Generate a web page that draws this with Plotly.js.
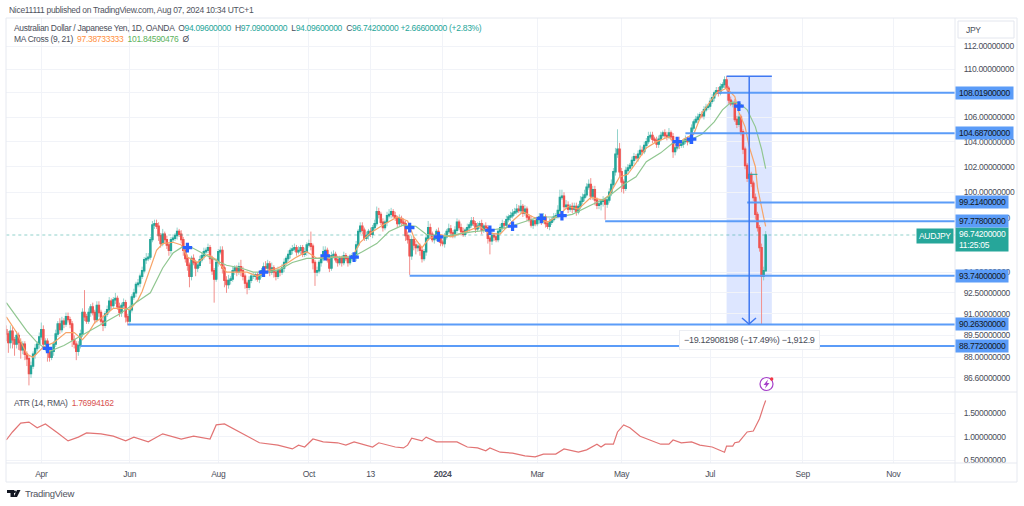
<!DOCTYPE html>
<html>
<head>
<meta charset="utf-8">
<title>AUDJPY 1D</title>
<script src="https://cdn.plot.ly/plotly-3.0.1.min.js"></script>
<style>
	html, body { margin: 0; padding: 0; background: #fff; }
	#chart { width: 1024px; height: 506px; }
	text { letter-spacing: -0.3px; }
</style>
</head>
<body>
<div id="chart"></div>
<script>
	'use strict';

	// daily closes, one line = 10 bars, first bar is 2023-03-09
	const firstOpen = 89.9;
	const closes = [
		89.6,89.0,89.8,89.2,88.9,89.5,89.0,88.5,88.9,88.2,
		87.9,86.9,87.4,88.2,88.6,88.9,89.4,89.9,88.9,89.1,
		88.4,88.0,88.4,88.9,89.6,90.3,89.9,90.5,90.3,90.8,
		90.6,90.3,89.2,88.9,88.4,88.8,89.6,91.1,90.8,90.5,
		91.1,91.5,91.1,90.6,91.6,91.1,90.5,90.2,91.0,91.3,
		91.9,91.6,92.0,92.1,91.5,91.1,91.6,91.8,90.8,90.5,
		91.3,92.2,92.5,93.1,93.2,93.7,94.1,94.9,95.0,95.1,
		96.4,97.5,97.6,97.4,96.7,96.1,96.8,96.4,96.0,95.6,
		96.4,96.5,96.7,97.0,96.8,96.4,95.6,95.0,94.5,93.7,
		95.0,94.7,94.3,94.5,94.9,95.2,95.5,95.6,95.8,95.0,
		94.1,93.5,94.7,95.5,95.6,94.3,93.4,93.1,93.4,93.5,
		94.1,94.3,94.0,94.4,94.1,93.7,93.2,92.9,93.4,93.7,
		93.7,93.8,93.5,93.8,94.1,94.4,94.3,94.6,94.0,94.3,
		94.0,93.7,94.1,94.0,94.3,94.7,95.0,95.3,95.6,95.7,
		95.8,95.5,95.6,95.8,95.3,95.5,96.0,96.1,95.9,94.7,
		94.0,94.1,94.7,95.0,95.5,95.6,94.9,94.3,95.2,95.3,
		94.9,94.7,95.0,94.7,95.2,95.0,94.7,95.0,95.2,95.1,
		96.0,97.0,97.4,97.1,96.5,96.7,97.0,96.8,97.3,97.6,
		98.5,98.3,97.7,97.3,97.7,98.2,98.3,98.5,98.2,98.0,
		97.6,98.0,97.7,97.6,96.7,96.4,95.2,96.4,96.0,95.8,
		95.9,95.6,95.0,95.5,96.5,97.3,96.8,96.4,96.5,97.0,
		96.5,96.2,96.1,96.6,97.0,97.2,96.9,96.7,97.1,97.7,
		97.3,97.0,96.8,97.1,97.3,97.5,97.8,97.6,97.2,97.4,
		97.6,97.1,97.4,97.3,96.5,96.3,96.7,96.6,96.4,97.0,
		97.3,97.6,97.5,97.9,98.1,98.2,98.4,98.5,98.7,98.6,
		98.9,98.4,98.7,98.1,97.9,97.5,97.8,97.6,97.9,98.1,
		97.8,98.1,97.6,97.4,97.7,97.9,98.1,98.2,98.6,99.6,
		99.7,98.9,99.0,98.7,98.9,98.7,98.9,98.5,98.9,99.3,
		99.6,99.8,100.4,100.6,99.7,100.2,99.4,99.0,99.1,99.3,
		99.4,99.1,99.4,100.0,100.6,101.6,103.0,103.4,101.6,100.8,
		100.3,101.7,101.9,102.1,102.5,102.8,102.7,103.0,103.3,103.2,
		103.7,104.0,104.4,104.5,104.2,104.1,103.8,104.2,104.5,104.7,
		104.5,104.4,104.7,104.4,103.2,103.5,104.0,103.7,103.8,104.0,
		104.2,104.0,104.2,105.1,105.6,105.8,106.0,106.2,106.1,106.6,
		106.8,106.9,107.3,107.6,108.0,108.2,108.0,108.5,108.7,109.1,
		108.4,107.4,107.1,107.2,105.8,105.4,106.0,104.8,103.4,102.1,
		101.1,101.4,100.7,99.6,98.3,97.3,95.8,93.7,94.096,96.742
	];

	// wick lengths in tenths of a yen above / below the body
	const wickUp = [
		3,2,4,3,2,3,2,3,2,2, 2,2,3,2,3,2,3,5,3,2, 2,2,3,2,3,2,4,3,2,3, 3,2,2,3,2,3,3,3,16,2,
		3,2,3,2,3,3,2,4,2,3, 3,2,2,4,2,3,2,3,2,2, 3,2,3,2,3,2,3,2,4,3, 2,3,3,3,3,2,4,2,3,2,
		2,3,2,3,2,3,2,2,3,2, 2,3,2,3,3,2,3,2,3,2, 2,2,3,2,3,3,2,3,4,2, 3,2,2,3,5,3,2,2,3,2,
		3,2,2,3,2,3,4,3,2,4, 2,2,3,2,3,3,2,3,2,3, 3,2,3,2,2,3,2,3,9,2, 2,3,2,3,4,3,2,2,3,3,
		2,3,2,2,3,2,2,3,2,2, 3,2,3,3,2,3,2,3,2,3, 4,3,2,3,2,3,4,3,2,3, 2,3,2,3,2,3,3,3,2,3,
		2,2,3,2,3,5,3,2,3,2, 3,3,2,3,2,4,3,2,3,3, 2,3,3,2,3,2,3,3,2,3, 2,3,2,3,2,2,3,2,3,2,
		3,3,2,3,2,3,3,3,4,3, 5,2,3,2,2,3,2,3,2,3, 2,3,2,2,3,2,3,2,4,6, 5,3,4,3,2,3,3,3,2,4,
		3,4,3,4,5,3,3,2,3,2, 3,2,3,3,4,3,5,16,5,3, 2,3,3,2,3,3,2,3,4,3, 3,3,4,3,3,2,3,3,3,2,
		3,3,4,2,3,2,3,4,2,2, 3,2,3,3,2,3,3,2,3,3, 3,2,3,3,2,3,3,3,2,3, 3,2,3,2,3,3,3,2,2,2,
		2,2,2,2,3,2,2,3,3,3
	];
	const wickDown = [
		5,7,4,6,8,3,5,6,3,4, 5,8,3,2,3,2,3,2,4,5, 7,3,2,3,2,2,3,2,3,2, 2,3,5,3,6,3,2,2,3,2,
		2,3,2,3,2,3,2,4,2,2, 2,3,2,3,2,3,3,2,4,3, 3,2,2,3,2,3,2,2,3,2, 2,2,3,2,4,3,2,3,3,4,
		3,2,2,3,2,3,4,3,4,8, 3,2,6,3,2,2,3,2,2,4, 3,17,2,3,2,4,5,6,3,3, 2,3,3,2,4,3,4,5,2,2,
		2,3,2,3,2,2,3,2,3,2, 4,3,2,3,2,3,2,2,3,3, 2,3,2,3,2,2,3,2,3,5, 10,3,2,3,2,3,2,3,2,2,
		2,3,2,3,2,2,3,2,2,2, 3,2,2,3,2,2,3,2,3,2, 2,3,2,3,2,3,2,3,2,2, 3,2,3,2,4,3,14,3,4,5,
		3,4,3,2,3,2,3,2,3,2, 3,3,2,3,2,2,3,2,2,2, 2,3,2,2,2,3,2,2,3,2, 2,3,2,2,4,10,3,3,2,2,
		2,2,3,2,2,3,2,2,2,2, 3,3,2,3,2,2,3,2,2,3, 3,2,3,2,3,2,2,2,2,3, 2,3,2,3,2,3,2,3,2,2,
		2,3,2,2,3,3,4,3,3,5, 4,12,3,2,3,2,3,3,4,8, 4,2,3,2,2,3,2,3,2,3, 2,3,2,2,3,2,3,3,2,2,
		2,3,2,3,5,3,2,3,2,3, 2,3,2,3,2,2,3,2,2,3, 2,2,3,2,3,2,3,2,2,3, 2,3,2,3,2,3,2,3,4,3,
		3,3,3,3,4,3,3,34,3,0
	];

	const ma9Bars = [0,5,10,13,18,23,29,33,37,40,43,47,52,57,60,64,66,70,73,76,81,85,88,93,98,102,107,112,117,122,127,132,137,141,146,151,155,161,168,172,177,183,190,195,198,202,205,210,216,222,230,234,240,246,251,256,263,268,273,278,284,290,293,298,302,306,311,316,322,326,329,334,338,345,350,354,356,359,361,364,365,368,369];
	const ma9Values = [90.8,89.7,88.2,88.0,88.7,89.0,89.7,89.7,89.2,89.7,90.4,90.8,91.4,91.4,91.3,92.0,92.6,94.3,95.6,96.1,96.2,96.0,95.1,94.7,95.3,94.9,94.0,94.0,94.0,93.7,94.1,94.3,94.7,95.1,95.5,95.0,95.1,95.1,95.1,96.2,96.9,97.5,98.1,97.8,96.6,95.8,96.4,96.8,96.6,96.9,97.4,96.9,96.8,97.8,98.5,98.1,97.7,98.2,98.9,98.7,99.6,99.4,99.8,101.2,101.4,102.3,103.5,104.0,104.4,103.6,104.2,104.6,106.3,108.0,108.4,107.7,106.4,105.2,103.6,102.0,100.4,98.1,97.39];
	const ma21Bars = [0,5,10,15,21,28,33,39,47,55,62,70,76,81,85,89,94,100,107,114,120,127,133,139,146,152,161,168,173,180,186,193,199,204,211,219,227,235,243,251,259,268,275,284,292,300,306,311,318,324,333,338,344,348,352,356,360,364,367,369];
	const ma21Values = [91.8,90.8,89.8,89.0,88.4,88.8,89.2,89.7,90.3,91.0,91.7,92.5,94.3,95.4,95.8,95.9,95.5,95.0,94.5,94.3,94.0,94.0,94.2,94.7,95.0,95.0,95.1,95.1,95.5,96.1,97.0,97.5,97.4,96.8,96.6,96.8,97.0,97.1,97.3,97.7,98.1,98.1,98.3,99.0,99.6,100.6,101.2,102.4,103.1,103.9,104.2,104.6,105.6,106.6,107.2,107.2,106.6,105.2,103.4,101.85];

	// blue crosses where the two averages meet
	const crossBars = [20,88,125,155,169,196,210,235,246,260,270,326,333,356];
	const crossPrices = [88.6,95.8,94.0,95.2,95.1,97.3,96.6,97.1,97.4,98.0,98.2,104.0,104.2,106.9];

	// ATR (14, RMA)
	const atrBars = [0,3,7,11,15,19,25,30,35,39,46,52,58,62,69,76,85,91,99,102,106,114,123,132,139,142,145,149,154,161,165,169,173,178,181,189,193,195,197,200,202,204,209,216,219,224,229,233,235,240,246,252,257,261,267,271,278,282,287,289,291,295,297,300,303,308,313,318,322,324,328,333,337,343,349,350,353,354,356,360,363,365,366,368,369];
	const atrValues = [.93,1.10,1.29,1.31,1.19,1.27,1.08,.91,.99,1.08,1.06,1.01,.91,.99,.89,1.06,.95,1.01,.95,1.25,1.27,1.08,.87,.82,.74,.82,.78,.95,.89,.87,.82,.89,.84,.78,.87,.78,.76,.82,.97,.93,.91,.99,.89,.89,.89,.78,.76,.70,.76,.67,.65,.59,.57,.63,.63,.74,.67,.72,.84,.78,.84,.84,1.10,1.25,1.19,1.01,.93,.84,.84,.93,.87,.89,.82,.78,.67,.80,.80,.87,.89,1.10,1.12,1.29,1.38,1.65,1.77];

	// drawn horizontal levels: price, bar it starts from, axis label
	const levelPrices = [108.019,104.687,99.214,97.778,93.74,90.263,88.772];
	const levelStart = [346,330,360,291,196,59,36];
	const levelLabels = ['108.01900000','104.68700000','99.21400000','97.77800000','93.74000000','90.26300000','88.77200000'];

	// price range tool
	const rangeTop = 109.4;
	const rangeBottom = 90.263;
	const rangeBars = [350,372];
	const rangeArrowBar = 361;

	const lastPrice = 96.742;

	// axis ticks
	const priceTicks = [112,110,108,106,104,102,100,98,94,92.5,91,89.5,88,86.6];
	const priceTickText = ['112.00000000','110.00000000','','106.00000000','104.00000000','102.00000000','100.00000000','98.00000000','94.00000000','92.50000000','91.00000000','89.50000000','88.00000000','86.60000000'];
	const atrTicks = [1.5,1,0.5];
	const atrTickText = ['1.50000000','1.00000000','0.50000000'];
	const timeTicks = ['2023-04-03','2023-06-01','2023-08-01','2023-10-02','2023-11-13','2024-01-01','2024-03-05','2024-05-01','2024-07-01','2024-09-02','2024-11-01'];
	const timeTickText = ['Apr','Jun','Aug','Oct','13','<b>2024</b>','Mar','May','Jul','Sep','Nov'];

	const uiFont = '"Liberation Sans", sans-serif';
	const uiSize = 8.5;
	const teal = '#26a69a';
	const red = '#ef5350';
	const paleTeal = '#93d3cc';
	const paleRed = '#f2908d';
	const levelBlue = '#5b9cf8';
	const rangeBlue = '#3f78f2';
	const gridColor = '#f1f3f8';
	const frameColor = '#e6e9f0';
	const textColor = '#4a4e5a';

	/**
	* Weekdays only, from the first bar and on into the empty right side
	*/
	const buildDates = ( start, count ) => {
		const out = [];
		const d = new Date( start + 'T00:00:00Z' );
		while( out.length < count ){
			const day = d.getUTCDay();
			if( day !== 0 && day !== 6 ) out.push( d.toISOString().slice( 0, 10 ));
			d.setUTCDate( d.getUTCDate() + 1 );
		}
		return out;
	};

	const dates = buildDates( '2023-03-09', 470 );
	const barDates = dates.slice( 0, closes.length );
	const toDates = ( bars ) => bars.map( i => dates[i] );
	const rangeEnd = dates[461];

	const opens = closes.map(( c, i ) => i ? closes[ i - 1 ] : firstOpen );
	const bodyTop = closes.map(( c, i ) => Math.max( opens[i], c ));
	const bodyBottom = closes.map(( c, i ) => Math.min( opens[i], c ));
	const highs = bodyTop.map(( v, i ) => v + wickUp[i] / 10 );
	const lows = bodyBottom.map(( v, i ) => v - wickDown[i] / 10 );

	// page pixels to paper fractions (plot area is 6..955 x 18..463)
	const px = ( x ) => ( x - 6 ) / 949;
	const py = ( y ) => ( 463 - y ) / 445;
	const pathOf = ( pts ) => 'M' + pts.map( p => px( p[0] ) + ',' + py( p[1] )).join( 'L' ) + 'Z';
	const paperShape = ( o ) => Object.assign({ xref: 'paper', yref: 'paper' }, o );

	/**
	* Data traces
	*/
	const lineTrace = ( x, y, color, width, extra ) => Object.assign({
		x, y,
		type: 'scatter',
		mode: 'lines',
		line: { color, width },
		hoverinfo: 'skip',
		showlegend: false,
	}, extra );

	// candles go in twice: pale full range for the wicks, solid body on top
	const candleTrace = ( high, low, upColor, downColor, width ) => ({
		x: barDates,
		open: opens,
		high,
		low,
		close: closes,
		type: 'candlestick',
		increasing: { line: { color: upColor, width }, fillcolor: upColor },
		decreasing: { line: { color: downColor, width }, fillcolor: downColor },
		whiskerwidth: 0,
		hoverinfo: 'skip',
		showlegend: false,
	});

	const traces = [
		lineTrace( [ dates[0], rangeEnd ], [ lastPrice, lastPrice ], 'rgba(38,166,154,0.5)', 1, { line: { color: 'rgba(38,166,154,0.5)', width: 1, dash: 'dot' }}),
		candleTrace( highs, lows, paleTeal, paleRed, 1 ),
		candleTrace( bodyTop, bodyBottom, teal, red, 1.4 ),
		lineTrace( toDates( ma9Bars ), ma9Values, '#f7a468', 1.2 ),
		lineTrace( toDates( ma21Bars ), ma21Values, '#90c690', 1.2 ),
	];

	levelPrices.forEach(( price, i ) => {
		traces.push( lineTrace( [ dates[ levelStart[i] ], rangeEnd ], [ price, price ], levelBlue, 2 ));
	});

	traces.push( lineTrace( toDates( rangeBars ), [ rangeTop, rangeTop ], rangeBlue, 1.5 ));
	traces.push( lineTrace( [ dates[ rangeArrowBar ], dates[ rangeArrowBar ]], [ rangeTop, rangeBottom ], rangeBlue, 1.5 ));
	traces.push( lineTrace( toDates( [ 361, 365 ] ), [ 101.4, 101.4 ], teal, 1 ));

	traces.push({
		x: toDates( crossBars ),
		y: crossPrices,
		type: 'scatter',
		mode: 'markers',
		marker: { symbol: 'cross', size: 8, color: '#2962ff' },
		hoverinfo: 'skip',
		showlegend: false,
	});

	traces.push( lineTrace( toDates( atrBars ), atrValues, '#e27474', 1.2, { yaxis: 'y2' }));

	/**
	* Text
	*/
	const note = ( x, y, text, extra ) => Object.assign({
		xref: 'paper', yref: 'paper',
		x: px( x ), y: py( y ),
		xanchor: 'left', yanchor: 'middle',
		text,
		showarrow: false,
		font: { family: uiFont, size: uiSize, color: textColor },
	}, extra );

	const val = ( v, color ) => `<span style="color:${color}">${v}</span>`;

	const annotations = [
		note( 7, 10, 'Nice11111 published on TradingView.com, Aug 07, 2024 10:34 UTC+1', { font: { family: uiFont, size: uiSize, color: '#50535e' }}),
		note( 12, 28, 'Australian Dollar / Japanese Yen, 1D, OANDA  O' + val( '94.09600000', teal ) + '  H' + val( '97.09000000', teal ) + '  L' + val( '94.09600000', teal ) + '  C' + val( '96.74200000', teal ) + ' ' + val( '+2.66600000 (+2.83%)', teal )),
		note( 12, 39, 'MA Cross (9, 21)  ' + val( '97.38733333', '#ff8f40' ) + '  ' + val( '101.84590476', '#5cb25c' ) + '  \u00d8' ),
		note( 12, 403, 'ATR (14, RMA)  ' + val( '1.76994162', '#d9534f' )),
		note( 964, 30, 'JPY' ),
		note( 749, 340, '\u221219.12908198 (\u221217.49%) \u22121,912.9', {
			xanchor: 'center',
			bgcolor: '#ffffff',
			borderpad: 4,
			bordercolor: '#eceef3',
			borderwidth: 1,
			font: { family: uiFont, size: 9, color: textColor },
		}),
		note( 954, 235.5, 'AUDJPY', {
			xanchor: 'right',
			bgcolor: teal,
			borderpad: 2,
			font: { family: uiFont, size: uiSize, color: '#ffffff' },
		}),
		note( 955, 240, ' 96.74200000 <br> 11:25:05', {
			bgcolor: teal,
			align: 'left',
			borderpad: 1,
			font: { family: uiFont, size: uiSize, color: '#ffffff' },
		}),
		note( 23, 493, 'TradingView', { font: { family: uiFont, size: 9.5, color: '#50535e' }}),
	];

	levelPrices.forEach(( price, i ) => {
		annotations.push({
			xref: 'paper', yref: 'y',
			x: 1, y: Math.log10( price ),
			xanchor: 'left', yanchor: 'middle',
			text: ' ' + levelLabels[i] + ' ',
			showarrow: false,
			bgcolor: levelBlue,
			borderpad: 1,
			font: { family: uiFont, size: uiSize, color: '#131722' },
		});
	});

	/**
	* Shapes
	*/
	const shapes = [
		{
			type: 'rect', layer: 'below',
			xref: 'x', yref: 'y',
			x0: dates[ rangeBars[0] ], x1: dates[ rangeBars[1] ],
			y0: rangeBottom, y1: rangeTop,
			fillcolor: 'rgba(41,98,255,0.16)',
			line: { width: 0 },
		},
		// chart frame
		paperShape({ type: 'rect', x0: px( 6 ), x1: px( 1017 ), y0: py( 482 ), y1: py( 18 ), line: { color: frameColor, width: 1 }}),
		paperShape({ type: 'line', x0: px( 955 ), x1: px( 955 ), y0: py( 482 ), y1: py( 18 ), line: { color: frameColor, width: 1 }}),
		paperShape({ type: 'line', x0: px( 6 ), x1: px( 1017 ), y0: py( 392 ), y1: py( 392 ), line: { color: frameColor, width: 1 }}),
		paperShape({ type: 'line', x0: px( 6 ), x1: px( 1017 ), y0: py( 463 ), y1: py( 463 ), line: { color: frameColor, width: 1 }}),
		// currency box
		paperShape({ type: 'rect', x0: px( 958 ), x1: px( 1014 ), y0: py( 38 ), y1: py( 21 ), fillcolor: '#fff', line: { color: '#e3e6ee', width: 1 }}),
		// range arrow head
		paperShape({ type: 'path', path: 'M' + px( 742 ) + ',' + py( 318 ) + 'L' + px( 749 ) + ',' + py( 324 ) + 'L' + px( 756 ) + ',' + py( 318 ), line: { color: rangeBlue, width: 1.5 }}),
		// news flash
		paperShape({ type: 'circle', x0: px( 760 ), x1: px( 773 ), y0: py( 390.5 ), y1: py( 377.5 ), fillcolor: '#fff', line: { color: '#a63fc9', width: 1.2 }}),
		paperShape({ type: 'path', path: pathOf( [ [768,379.5], [763.5,385], [766,385], [765,388.5], [769.5,383], [767,383] ] ), fillcolor: '#a63fc9', line: { width: 0 }}),
		paperShape({ type: 'circle', x0: px( 770 ), x1: px( 773.4 ), y0: py( 380.7 ), y1: py( 377.3 ), fillcolor: '#f23645', line: { width: 0 }}),
		// logo
		paperShape({ type: 'path', path: pathOf( [ [7,490], [14,490], [14,497], [10.5,497], [10.5,493], [7,493] ] ), fillcolor: '#131722', line: { width: 0 }}),
		paperShape({ type: 'circle', x0: px( 13.5 ), x1: px( 16 ), y0: py( 493 ), y1: py( 490.5 ), fillcolor: '#131722', line: { width: 0 }}),
		paperShape({ type: 'path', path: pathOf( [ [17,490], [20.5,490], [17,497], [13.5,497] ] ), fillcolor: '#131722', line: { width: 0 }}),
	];

	/**
	* Layout
	*/
	const rightAxis = {
		side: 'right',
		anchor: 'x',
		tickmode: 'array',
		ticklen: 6,
		tickcolor: 'rgba(0,0,0,0)',
		tickfont: { family: uiFont, size: uiSize, color: textColor },
		gridcolor: gridColor,
		showline: false,
		zeroline: false,
		fixedrange: true,
	};

	const layout = {
		width: 1024,
		height: 506,
		margin: { l: 6, r: 69, t: 18, b: 43, pad: 0 },
		paper_bgcolor: '#ffffff',
		plot_bgcolor: '#ffffff',
		showlegend: false,
		hovermode: false,
		xaxis: {
			type: 'date',
			anchor: 'y2',
			range: [ '2023-03-08 20:24', rangeEnd ],
			rangebreaks: [{ bounds: [ 'sat', 'mon' ] }],
			rangeslider: { visible: false },
			tickmode: 'array',
			tickvals: timeTicks,
			ticktext: timeTickText,
			ticklen: 3,
			tickcolor: 'rgba(0,0,0,0)',
			tickfont: { family: uiFont, size: uiSize, color: textColor },
			gridcolor: gridColor,
			showline: false,
			zeroline: false,
			fixedrange: true,
		},
		yaxis: Object.assign({}, rightAxis, {
			type: 'log',
			domain: [ 71 / 445, 1 ],
			range: [ Math.log10( 85.66 ), Math.log10( 114.46 ) ],
			tickvals: priceTicks,
			ticktext: priceTickText,
		}),
		yaxis2: Object.assign({}, rightAxis, {
			domain: [ 0, 71 / 445 ],
			range: [ 0.44, 1.95 ],
			tickvals: atrTicks,
			ticktext: atrTickText,
		}),
		shapes,
		annotations,
	};

	Plotly.newPlot( 'chart', traces, layout, { displayModeBar: false, staticPlot: true });
</script>
</body>
</html>
